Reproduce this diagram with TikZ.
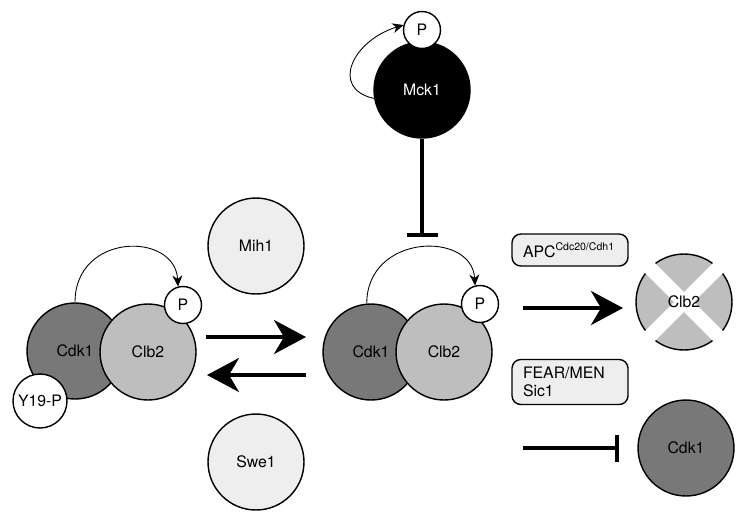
\documentclass[tikz,border=0pt]{standalone}
\usepackage{fontspec}
\setmainfont{TeX Gyre Heros}
\usetikzlibrary{arrows.meta}

\definecolor{cdkgray}{RGB}{120,120,120}
\definecolor{clbgray}{RGB}{190,190,190}
\definecolor{palegray}{RGB}{238,238,238}

\begin{document}
\begin{tikzpicture}[
  x=0.02cm, y=-0.02cm,
  font=\fontsize{9}{10}\selectfont,
  protein/.style={circle, draw, line width=0.8pt, minimum size=1.92cm, inner sep=0pt},
  cdk/.style={protein, fill=cdkgray},
  clb/.style={protein, fill=clbgray},
  regul/.style={protein, fill=palegray},
  phos/.style={circle, draw, line width=0.8pt, fill=white, minimum size=0.74cm, inner sep=0pt},
  tag/.style={rectangle, draw, rounded corners=5pt, fill=palegray, line width=0.8pt,
              text width=1.88cm, inner xsep=0.22cm, align=left},
  bigarrow/.style={-{Stealth[length=6.4mm, width=6.8mm, inset=2mm]}, line width=2.2pt},
  block/.style={line width=2.2pt},
  loop/.style={-{Stealth[length=2.2mm, width=2mm]}, line width=0.5pt},
  cross/.style={white, line width=0.28cm, shorten <=-4pt, shorten >=-4pt},
]
\useasboundingbox (0,0) rectangle (750,525);

% ---- Mck1 ----
\node[protein, fill=black, text=white] (mck) at (422,90) {Mck1};
\node[phos] (ptop) at (422,30) {P};
\draw[loop] (mck.190) .. controls +(-45,-10) and +(-50,15) .. (ptop.165);

% ---- left complex ----
\node[cdk] (cdkL) at (75,351) {Cdk1};
\node[clb] (clbL) at (148,352) {Clb2};
\node[phos] (pL) at (183,305) {P};
\node[phos, minimum size=1.08cm] (y19) at (40,401) {Y19-P};
\draw[loop] (cdkL.north) .. controls +(0,-70) and +(-3,-55) .. (pL.105);

% ---- regulators ----
\node[regul] (mih) at (256,246) {Mih1};
\node[regul] (swe) at (256,462) {Swe1};

% ---- middle complex ----
\node[cdk] (cdkM) at (371,352) {Cdk1};
\node[clb] (clbM) at (444,352) {Clb2};
\node[phos] (pM) at (480,304) {P};
\draw[loop] (cdkM.95) .. controls +(0,-70) and +(-3,-55) .. (pM.105);

% ---- right side ----
\node[tag, minimum height=0.64cm] (apc) at (570,250) {APC\textsuperscript{Cdc20/Cdh1}};
\node[tag, minimum height=0.9cm] (fear) at (570,382) {FEAR/MEN\\Sic1};

\node[clb] (clbX) at (684,302) {};
\draw[cross] (clbX.45) -- (clbX.225);
\draw[cross] (clbX.135) -- (clbX.315);
\node (clbXlabel) at (clbX) {Clb2};

\node[cdk] (cdkR) at (686,448) {Cdk1};

% ---- connectors ----
\coordinate (fwdS) at (206,337);
\coordinate (fwdE) at (306,337);
\coordinate (bwdS) at (306,375);
\coordinate (bwdE) at (207,375);
\coordinate (mckstop) at (422,237);
\coordinate (degS) at (523,308);
\coordinate (degE) at (623,308);
\coordinate (inhS) at (523,448);
\coordinate (inhE) at (619,448);

\draw[bigarrow] (fwdS) -- (fwdE);
\draw[bigarrow] (bwdS) -- (bwdE);
\draw[block, -{Bar[width=6.2mm]}] (mck) -- (mckstop);
\draw[bigarrow] (degS) -- (degE);
\draw[block, -{Bar[width=5.4mm]}] (inhS) -- (inhE);

\end{tikzpicture}
\end{document}
